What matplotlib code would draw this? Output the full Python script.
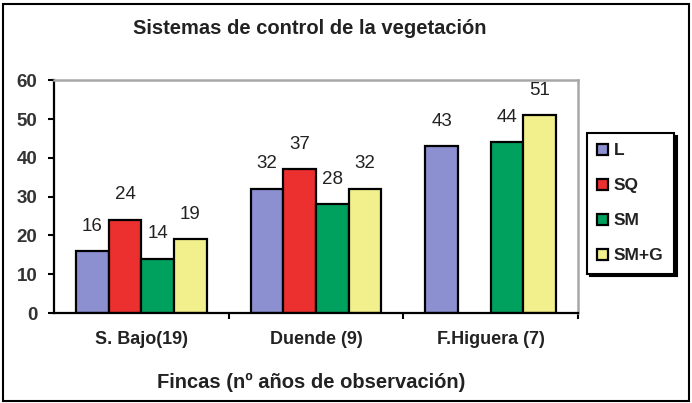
import matplotlib
matplotlib.use("Agg")
import matplotlib.pyplot as plt
import numpy as np

# Datos
fincas = ['S. Bajo(19)', 'Duende (9)', 'F.Higuera (7)']
series = ['L', 'SQ', 'SM', 'SM+G']
val_L = [16, 32, 43]
val_SQ = [24, 37, None]
val_SM = [14, 28, 44]
val_SMG = [19, 32, 51]
colores = ['#8c8fd0', '#ec2f2f', '#00a05e', '#f2f08c']

plt.rcParams['font.family'] = ['Liberation Sans', 'DejaVu Sans']

fig = plt.figure(figsize=(6.92, 4.03), dpi=100)
ax = fig.add_axes([0.078, 0.223, 0.757, 0.578])

x = np.arange(len(fincas))
ancho = 0.187
valores = [val_L, val_SQ, val_SM, val_SMG]
for i, (nombre, vals, col) in enumerate(zip(series, valores, colores)):
    pos = x + (i - 1.5) * ancho
    primero = True
    for p, v in zip(pos, vals):
        if v is None:
            continue
        ax.bar(p, v, ancho, color=col, edgecolor='black', linewidth=1.6,
               label=nombre if primero else None)
        primero = False
        ax.annotate(str(v), (p, v), xytext=(0, 18), textcoords='offset points',
                    ha='center', va='center', fontsize=13.5, color='#222222')

ax.set_xlim(-0.5, 2.5)
ax.set_ylim(0, 60)
ax.set_yticks(range(0, 61, 10))
ax.set_yticklabels([str(t) for t in range(0, 61, 10)], fontsize=13.5, fontweight='bold', color='#333333')
ax.set_xticks([0.5, 1.5, 2.5])
ax.set_xticklabels([])
ax.set_xticks(x, minor=True)
ax.set_xticklabels(fincas, minor=True, fontsize=13, fontweight='bold', color='#222222')
ax.tick_params(axis='x', which='minor', length=0, pad=13)
ax.tick_params(axis='x', which='major', length=4, width=1.5, direction='out')
ax.tick_params(axis='y', length=4, width=1.5, direction='out', pad=8)

ax.spines['left'].set_linewidth(1.6)
ax.spines['bottom'].set_linewidth(1.6)
for lado in ['top', 'right']:
    ax.spines[lado].set_color('#a8a8a8')
    ax.spines[lado].set_linewidth(1.8)

fig.text(0.45, 0.052, 'Fincas (nº años de observación)', ha='center', va='center',
         fontsize=14.5, fontweight='bold', color='#222222')
fig.text(0.448, 0.93, 'Sistemas de control de la vegetación', ha='center', va='center',
         fontsize=14.5, fontweight='bold', color='#222222')

leg = ax.legend(loc='upper left', bbox_to_anchor=(0.848, 0.670), bbox_transform=fig.transFigure,
                frameon=True, fancybox=False, shadow={'color': 'black', 'alpha': 1},
                edgecolor='black', prop={'weight': 'bold', 'size': 12.5},
                handlelength=0.6, handleheight=0.6, handletextpad=0.35, labelspacing=1.15,
                borderpad=0.6, borderaxespad=0)
leg.get_frame().set_linewidth(1.5)
for t in leg.get_texts():
    t.set_color('#222222')

# borde exterior
fig.patches.append(plt.Rectangle((0.004, 0.004), 0.992, 0.985, transform=fig.transFigure,
                                 fill=False, edgecolor='black', linewidth=1.5))

fig.savefig('out.png', dpi=100)
